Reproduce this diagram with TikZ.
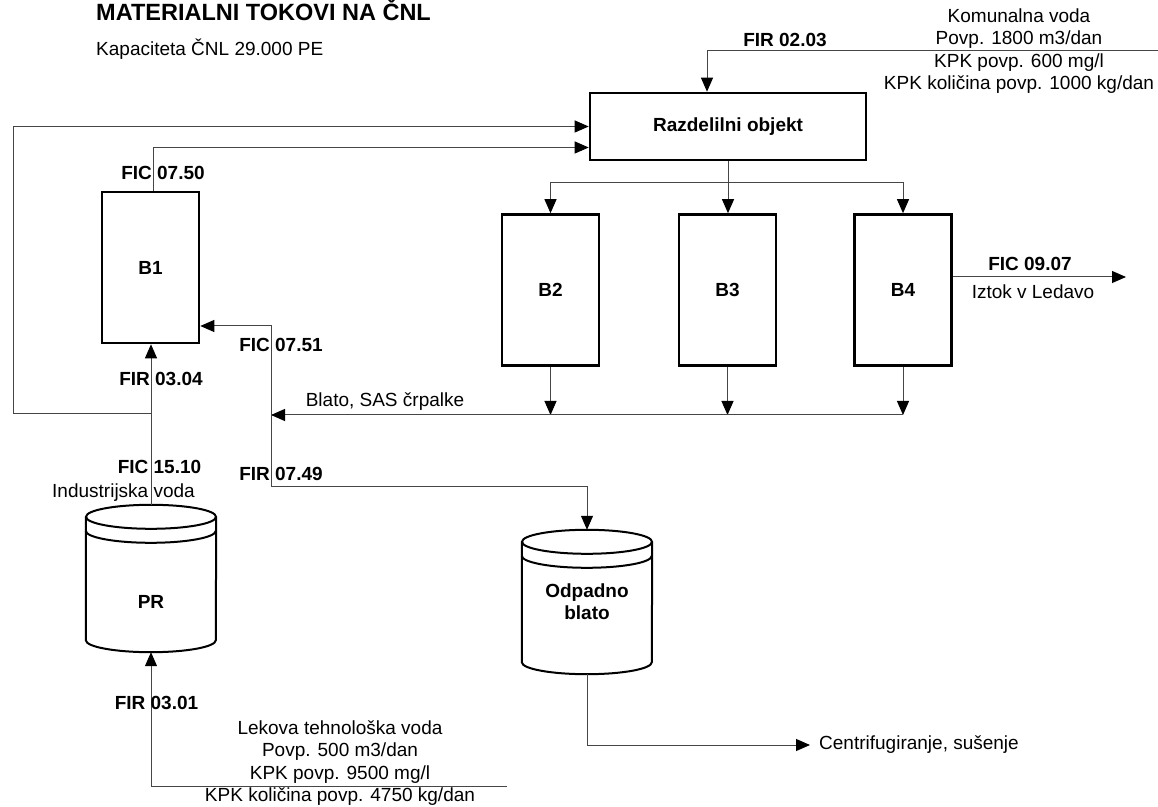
\documentclass[tikz,border=0pt]{standalone}
\usepackage{fontspec}
\setmainfont{Liberation Sans}
\usepackage{tikz}
\usetikzlibrary{calc,arrows.meta,positioning}
\definecolor{tokline}{RGB}{70,70,70}
\newcommand{\tankbody}[3]{%
  \draw[tankline] ($(#1.north)+(0,-#2)$) ellipse[x radius=65, y radius=#2];
  \draw[tankline] ($(#1.north west)+(0,-#2)$) -- ($(#1.south west)+(0,#2)$)
    arc[start angle=180, end angle=360, x radius=65, y radius=#2] -- ($(#1.north east)+(0,-#2)$);
  \draw[tankline] ($(#1.north west)+(0,-#2-#3)$) arc[start angle=180, end angle=360, x radius=65, y radius=#2];
}

\begin{document}
\begin{tikzpicture}[x=1pt,y=1pt,
  font=\fontsize{19}{22.3}\selectfont,
  unit/.style={draw=black, line width=2.6pt, fill=white, minimum width=97pt, minimum height=151pt, font=\fontsize{19}{22.3}\selectfont\bfseries},
  tank/.style={minimum width=130pt, inner sep=0pt, font=\fontsize{19}{22.3}\selectfont\bfseries},
  tankline/.style={draw=black, line width=2pt},
  flow/.style={draw=tokline, line width=1pt, -{Triangle[length=14pt,width=12pt,color=black]}},
  tag/.style={inner sep=0pt, font=\fontsize{19}{22.3}\selectfont\bfseries},
  note/.style={align=center, inner sep=0pt}]
\useasboundingbox (0,0) rectangle (1158,806);

% naslov
\node[anchor=base west, inner sep=0pt, font=\fontsize{23.5}{28}\selectfont\bfseries] (naslov) at (96,785.5) {MATERIALNI TOKOVI NA ČNL};
\node[anchor=base west, inner sep=0pt] (kapaciteta) at (96,750) {Kapaciteta ČNL 29.000 PE};

% objekti
\node[unit, minimum width=276pt, minimum height=67pt] (razd) at (728,679.5) {Razdelilni objekt};
\node[unit] (b1) at (150.5,538.5) {B1};
\node[unit] (b2) at (550.5,516) {B2};
\node[unit] (b3) at (727.5,516) {B3};
\node[unit] (b4) at (903,516) {B4};
\node[tank, minimum height=147pt, text height=60.6pt, text depth=0pt] (pr) at (151,227.5) {PR};
\node[tank, minimum height=144pt, align=center] (odp) at (587,204) {Odpadno\\blato};
\tankbody{pr}{12}{14}
\tankbody{odp}{12}{14}

% komunalna voda
\coordinate (kom) at (1158,755);
\draw[flow] (kom) -| ($(razd.north)+(-21,0)$);
\node[tag] (fir0203) at (785,766) {FIR 02.03};
\node[note] (komunalna) at (1019,755) {Komunalna voda\\Povp. 1800 m3/dan\\KPK povp. 600 mg/l\\KPK količina povp. 1000 kg/dan};

% lekova voda
\coordinate (lek) at (507,20);
\draw[flow] (lek) -| (pr.south);
\node[tag] (fir0301) at (156.5,103) {FIR 03.01};
\node[note] (lekova) at (340,43) {Lekova tehnološka voda\\Povp. 500 m3/dan\\KPK povp. 9500 mg/l\\KPK količina povp. 4750 kg/dan};

% industrijska voda
\draw[flow] (pr.north) -- (pr.north |- b1.south);
\node[tag] (fir0304) at (161,427) {FIR 03.04};
\node[tag] (fic1510) at (159.5,339) {FIC 15.10};
\node[note] (industrijska) at (123.5,313) {Industrijska voda};

% povratek na razdelilni objekt
\coordinate (odcep) at (151,392);
\draw[flow] (odcep) -- (13,392) |- (razd.west);
\draw[flow] ($(b1.north)+(2.5,0)$) |- ($(razd.west)+(0,-21)$);
\node[tag] (fic0750) at (163,633) {FIC 07.50};

% razdelitev
\coordinate (razv) at ($(razd.south)+(0,-21)$);
\draw[flow] (razd.south) -- (razd.south |- b3.north);
\draw[flow] (razv) -| (b2.north);
\draw[flow] (razv) -| (b4.north);

% blato
\coordinate (sas) at (271,391);
\foreach \b in {b2,b3,b4}
  \draw[flow] (\b.south) -- (\b.south |- sas);
\draw[flow] (b4.south |- sas) -- (sas);
\node[note] (blato) at (385,404) {Blato, SAS črpalke};
\draw[flow] (sas) |- ($(b1.east)+(0,-58.5)$);
\draw[flow] (sas) -- (271,319) -| (odp.north);
\node[tag] (fic0751) at (281,461) {FIC 07.51};
\node[tag] (fir0749) at (281,332) {FIR 07.49};

% iztok
\coordinate (iztok) at (1126,529);
\draw[flow] ($(b4.east)+(0,13)$) -- (iztok);
\node[tag] (fic0907) at (1030,542) {FIC 09.07};
\node[note] (ledavo) at (1033,514) {Iztok v Ledavo};

% centrifugiranje
\node[note, anchor=west, inner xsep=9pt] (centri) at (810,61) {Centrifugiranje, sušenje};
\draw[flow] (odp.south) |- (centri.west);
\end{tikzpicture}
\end{document}
